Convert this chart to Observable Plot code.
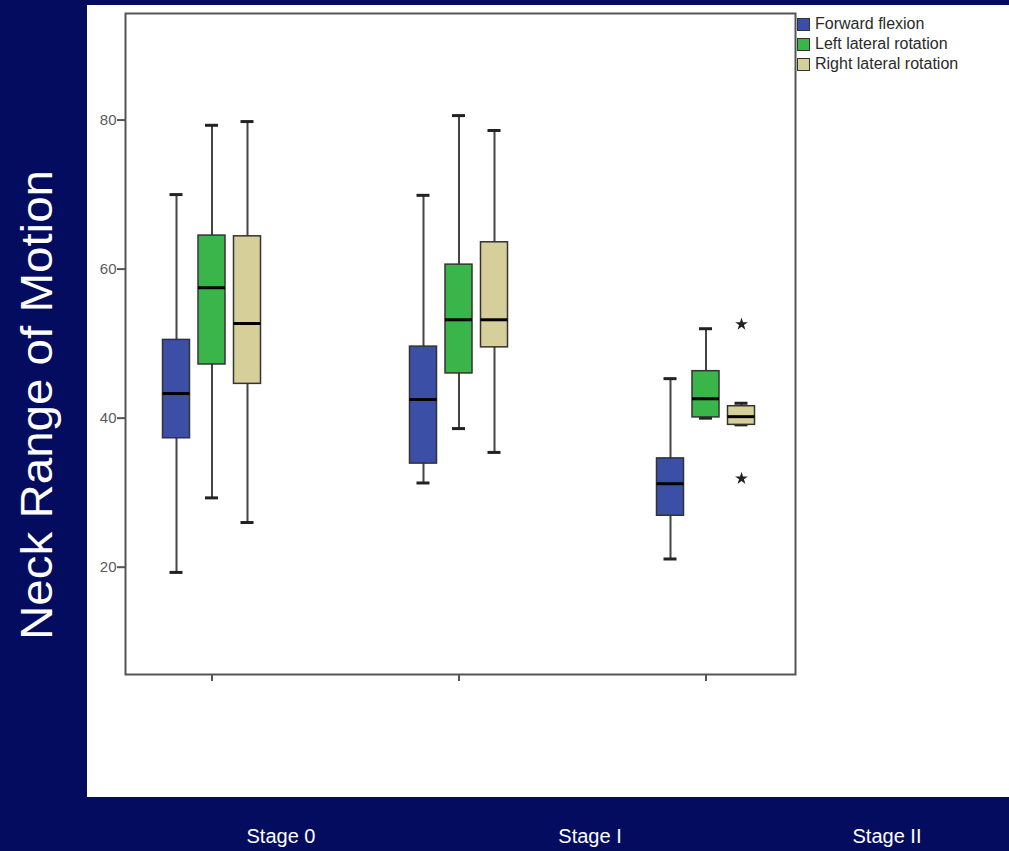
<!DOCTYPE html>
<html>
<head>
<meta charset="utf-8">
<script src="https://cdn.jsdelivr.net/npm/d3@7"></script>
<script src="https://cdn.jsdelivr.net/npm/@observablehq/plot@0.6"></script>
<style>
  html, body { margin: 0; padding: 0; }
  body {
    width: 1009px; height: 851px; position: relative; overflow: hidden;
    background: #030c5e;
    font-family: "Liberation Sans", Arial, Helvetica, sans-serif;
  }
  #panel { position: absolute; left: 87px; top: 5px; width: 922px; height: 792px; background: #fff; }
  #panel svg { position: absolute; left: 0; top: 0; }
  #panel svg g[aria-label^="x-axis"] line, #panel svg g[aria-label^="x-axis"] path,
  #panel svg g[aria-label^="y-axis"] line, #panel svg g[aria-label^="y-axis"] path { stroke-width: 2px; }
  #panel svg g[aria-label^="y-axis"] text { font-size: 15px; fill: #5a5a5a; }
  #legend { position: absolute; left: 710px; top: 13px; }
  .lg-row { position: relative; height: 20px; }
  .lg-sw { position: absolute; left: 0; top: 0px; width: 11px; height: 11px; border: 1px solid #333; }
  .lg-tx { position: absolute; left: 18px; top: -3px; font-size: 16px; color: #2a2a2a; white-space: nowrap; line-height: 18px; }
  .stage { position: absolute; top: 825px; color: #fff; font-size: 20px; line-height: 23px; transform: translateX(-50%); white-space: nowrap; }
  #ytitle { position: absolute; left: 0; top: 0; }
</style>
</head>
<body>
<svg id="ytitle" width="87" height="851"></svg>
<div id="panel"></div>
<script>
// ---- data ----
const stages = ["Stage 0", "Stage I", "Stage II"];
const series = ["Forward flexion", "Left lateral rotation", "Right lateral rotation"];
const seriesColors = ["#3c4fa6", "#3ab54a", "#d7cf99"];
// [lower whisker, Q1, median, Q3, upper whisker] per stage
const flexionStats = [
  [19.3, 37.3, 43.3, 50.5, 70.0],
  [31.3, 33.9, 42.5, 49.6, 69.9],
  [21.1, 26.9, 31.2, 34.6, 45.3]
];
const leftRotationStats = [
  [29.3, 47.2, 57.5, 64.5, 79.3],
  [38.6, 46.0, 53.2, 60.6, 80.6],
  [40.0, 40.1, 42.6, 46.3, 52.0]
];
const rightRotationStats = [
  [26.0, 44.6, 52.7, 64.4, 79.8],
  [35.4, 49.5, 53.2, 63.6, 78.6],
  [39.1, 39.1, 40.2, 41.6, 42.0]
];
const extremeStages = ["Stage II", "Stage II"];
const extremeSeries = ["Right lateral rotation", "Right lateral rotation"];
const extremeValues = [52.6, 31.9];
const yTicks = [20, 40, 60, 80];
const yTitle = "Neck Range of Motion";

// ---- build tables ----
const allStats = [flexionStats, leftRotationStats, rightRotationStats];
const rows = [];
series.forEach((s, j) => stages.forEach((st, i) => {
  const [low, q1, median, q3, high] = allStats[j][i];
  rows.push({stage: st, series: s, low, q1, median, q3, high});
}));
const extremes = extremeValues.map((v, i) => ({stage: extremeStages[i], series: extremeSeries[i], value: v}));

// ---- layout constants ----
const step = 247;                    // band width of each stage group (px)
const xRange = [1, 1 + 3 * step];    // band centres land on the axis ticks
const groupOffsets = [-35.5, 0, 35.5];
const boxInset = step / 2 - 13.5;    // box width 27px
const capInset = step / 2 - 6.5;     // whisker cap width 13px

const marks = [];
series.forEach((s, j) => {
  const data = rows.filter(d => d.series === s);
  const dx = groupOffsets[j];
  marks.push(Plot.ruleX(data, {x: "stage", y1: "low", y2: "high", dx, stroke: "#444", strokeWidth: 2}));
  marks.push(Plot.tickY(data, {x: "stage", y: "low", dx, insetLeft: capInset, insetRight: capInset, stroke: "#222", strokeWidth: 3}));
  marks.push(Plot.tickY(data, {x: "stage", y: "high", dx, insetLeft: capInset, insetRight: capInset, stroke: "#222", strokeWidth: 3}));
  marks.push(Plot.barY(data, {x: "stage", y1: "q1", y2: "q3", dx, insetLeft: boxInset, insetRight: boxInset, fill: seriesColors[j], stroke: "#333", strokeWidth: 1.5}));
  marks.push(Plot.tickY(data, {x: "stage", y: "median", dx, insetLeft: boxInset, insetRight: boxInset, stroke: "#000", strokeWidth: 3}));
  const ex = extremes.filter(d => d.series === s);
  if (ex.length) marks.push(Plot.dot(ex, {x: "stage", y: "value", dx, symbol: "star", r: 4, fill: "#222", stroke: "none"}));
});
marks.push(Plot.frame({stroke: "#555", strokeWidth: 2}));

const chart = Plot.plot({
  width: 922, height: 792,
  marginLeft: 38, marginRight: 214, marginTop: 8, marginBottom: 123,
  style: {background: "transparent", color: "#555", fontSize: "15px", fontFamily: "'Liberation Sans', Arial, sans-serif"},
  x: {type: "band", domain: stages, range: xRange, padding: 0, axis: "bottom", tickSize: 7, tickFormat: () => "", label: null},
  y: {domain: [5.6, 94.3], ticks: yTicks, tickSize: 8, tickPadding: 1, label: null},
  marks
});
document.getElementById("panel").appendChild(chart);

// legend
const legend = document.createElement("div");
legend.id = "legend";
series.forEach((s, j) => {
  const row = document.createElement("div");
  row.className = "lg-row";
  const sw = document.createElement("div");
  sw.className = "lg-sw";
  sw.style.background = seriesColors[j];
  const tx = document.createElement("div");
  tx.className = "lg-tx";
  tx.textContent = s;
  row.appendChild(sw); row.appendChild(tx);
  legend.appendChild(row);
});
document.getElementById("panel").appendChild(legend);

// stage labels below panel
const stageLabelX = [281, 590, 887];
stages.forEach((st, i) => {
  const d = document.createElement("div");
  d.className = "stage";
  d.style.left = stageLabelX[i] + "px";
  d.textContent = st;
  document.body.appendChild(d);
});

// y title
const svgNS = "http://www.w3.org/2000/svg";
const t = document.createElementNS(svgNS, "text");
t.setAttribute("x", 52); t.setAttribute("y", 405);
t.setAttribute("transform", "rotate(-90 52 405)");
t.setAttribute("text-anchor", "middle");
t.setAttribute("fill", "#fff");
t.setAttribute("font-size", "45");
t.setAttribute("font-family", "'Liberation Sans', Arial, sans-serif");
t.setAttribute("textLength", "470");
t.setAttribute("lengthAdjust", "spacingAndGlyphs");
t.textContent = yTitle;
document.getElementById("ytitle").appendChild(t);
</script>
</body>
</html>
